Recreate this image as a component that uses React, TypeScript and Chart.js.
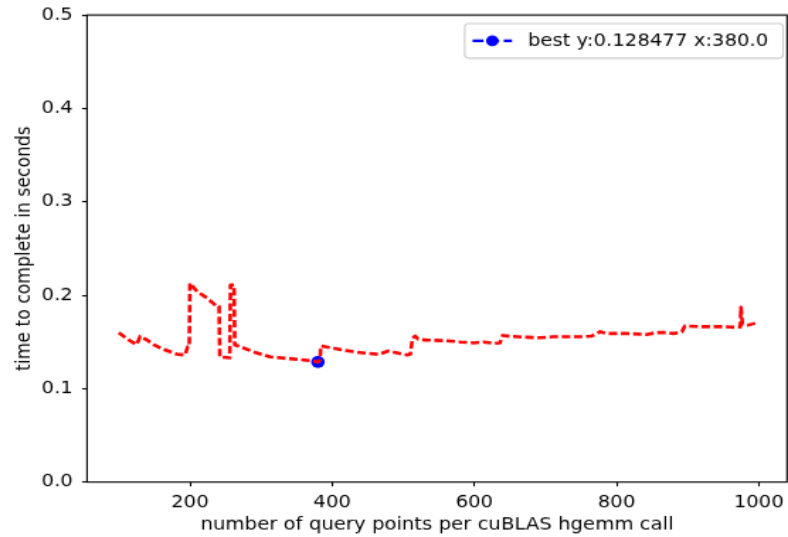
import React, { useEffect, useRef } from "react";
import { Chart, registerables } from "chart.js";

Chart.register(...registerables);

// ---- data ----
const xValues = [
  100, 112, 125, 130, 140, 149, 163, 181, 193, 197, 199, 200, 210, 224, 238, 241, 242, 256, 257, 262,
  263, 270, 289, 313, 336, 355, 374, 380, 383, 384, 397, 411, 430, 449, 465, 479, 491, 505, 510, 513,
  517, 521, 533, 561, 580, 599, 613, 627, 636, 640, 650, 674, 692, 711, 730, 753, 765, 770, 777, 786,
  814, 842, 857, 871, 880, 892, 896, 922, 950, 969, 974, 975, 977, 985, 995,
];
const yValues = [
  0.16, 0.153, 0.147, 0.156, 0.152, 0.147, 0.142, 0.137, 0.136, 0.145, 0.145, 0.213, 0.204, 0.197, 0.188, 0.188, 0.134, 0.133, 0.211, 0.211,
  0.147, 0.145, 0.1395, 0.134, 0.1324, 0.131, 0.1296, 0.128477, 0.131, 0.1456, 0.144, 0.142, 0.1395, 0.1378, 0.1367, 0.1402, 0.1384, 0.136, 0.137, 0.154,
  0.1563, 0.1528, 0.152, 0.1513, 0.15, 0.149, 0.15, 0.1485, 0.149, 0.157, 0.156, 0.155, 0.1545, 0.1556, 0.1556, 0.1556, 0.1563, 0.158, 0.161, 0.159,
  0.159, 0.158, 0.16, 0.16, 0.159, 0.161, 0.167, 0.1663, 0.1663, 0.1656, 0.166, 0.187, 0.169, 0.168, 0.17,
];
const bestX = 380.0;
const bestY = 0.128477;
const xTicks = [200, 400, 600, 800, 1000];
const yTicks = [0, 0.1, 0.2, 0.3, 0.4, 0.5];
const xRange = [55.25, 1039.75];
const yRange = [0, 0.5];
const xTitle = "number of query points per cuBLAS hgemm call";
const yTitle = "time to complete in seconds";
const legendLabel = `best y:${bestY} x:${bestX.toFixed(1)}`;

// ---- geometry (canvas drawn small, then stretched like the reference) ----
const OUT_W = 788;
const OUT_H = 537;
const CW = 556;
const CH = 433;
const SX = OUT_W / CW;
const SY = OUT_H / CH;
const AREA_LEFT = 87 / SX;
const AREA_RIGHT = 787 / SX;
const AREA_TOP = 15 / SY;
const AREA_BOTTOM = 482 / SY;
const FONT = "'DejaVu Sans', sans-serif";
const FS = 13.9;
const LW = 1.1;

const framePlugin = {
  id: "mplFrame",
  afterDraw(chart: any) {
    const { ctx, chartArea } = chart;
    const { left, right, top, bottom } = chartArea;
    ctx.save();
    ctx.strokeStyle = "#000";
    ctx.lineWidth = LW;
    ctx.strokeRect(left, top, right - left, bottom - top);

    // legend (upper right)
    ctx.font = `${FS}px ${FONT}`;
    const textW = ctx.measureText(legendLabel).width;
    const bp = 0.4 * FS;
    const hl = 2 * FS;
    const htp = 0.8 * FS;
    const padR = 0.75 * FS;
    const w = bp + hl + htp + textW + padR;
    const h = bp * 2 + 1.2 * FS;
    const bx = right - 0.2 * FS - w;
    const by = top + 0.5 * FS;
    const r = 0.2 * FS;
    ctx.beginPath();
    ctx.moveTo(bx + r, by);
    ctx.lineTo(bx + w - r, by);
    ctx.arcTo(bx + w, by, bx + w, by + r, r);
    ctx.lineTo(bx + w, by + h - r);
    ctx.arcTo(bx + w, by + h, bx + w - r, by + h, r);
    ctx.lineTo(bx + r, by + h);
    ctx.arcTo(bx, by + h, bx, by + h - r, r);
    ctx.lineTo(bx, by + r);
    ctx.arcTo(bx, by, bx + r, by, r);
    ctx.closePath();
    ctx.fillStyle = "rgba(255,255,255,0.8)";
    ctx.fill();
    ctx.strokeStyle = "#cccccc";
    ctx.lineWidth = LW;
    ctx.stroke();

    const cy = by + h / 2;
    const hx0 = bx + bp;
    ctx.beginPath();
    ctx.setLineDash([7.7, 3.3]);
    ctx.strokeStyle = "#0000ff";
    ctx.lineWidth = 2.2;
    ctx.moveTo(hx0, cy);
    ctx.lineTo(hx0 + hl, cy);
    ctx.stroke();
    ctx.setLineDash([]);
    ctx.beginPath();
    ctx.fillStyle = "#0000ff";
    ctx.arc(hx0 + hl / 2, cy, 4.4, 0, Math.PI * 2);
    ctx.fill();

    ctx.fillStyle = "#000";
    ctx.textBaseline = "middle";
    ctx.textAlign = "left";
    ctx.fillText(legendLabel, hx0 + hl + htp, cy + 0.5);
    ctx.restore();
  },
};

export default function App() {
  const ref = useRef<HTMLCanvasElement | null>(null);

  useEffect(() => {
    document.body.style.margin = "0";
    const canvas = ref.current;
    if (!canvas) return;
    const tickFont = { family: FONT, size: FS };
    const chart = new Chart(canvas, {
      type: "scatter",
      data: {
        datasets: [
          {
            data: xValues.map((x, i) => ({ x, y: yValues[i] })),
            showLine: true,
            borderColor: "#ff0000",
            backgroundColor: "#ff0000",
            borderWidth: 2.6,
            borderDash: [6, 2.6],
            borderCapStyle: "butt",
            borderJoinStyle: "round",
            pointRadius: 0,
            tension: 0,
            fill: false,
          },
          {
            data: [{ x: bestX, y: bestY }],
            showLine: false,
            pointRadius: 4.8,
            pointBackgroundColor: "#0000ff",
            pointBorderColor: "#0000ff",
            pointBorderWidth: 0,
          },
        ],
      } as any,
      options: {
        animation: false,
        responsive: false,
        devicePixelRatio: 1,
        events: [],
        layout: {
          autoPadding: false,
          padding: { left: 0, right: CW - AREA_RIGHT, top: AREA_TOP, bottom: 0 },
        },
        plugins: { legend: { display: false }, tooltip: { enabled: false } },
        scales: {
          x: {
            type: "linear",
            position: "bottom",
            min: xRange[0],
            max: xRange[1],
            border: { display: false },
            grid: {
              display: true,
              drawOnChartArea: false,
              drawTicks: true,
              tickLength: 3.5,
              tickWidth: LW,
              tickColor: "#000",
            },
            ticks: {
              color: "#000",
              font: tickFont,
              padding: 4.6,
              maxRotation: 0,
              autoSkip: false,
              callback: (v: any) => String(v),
            },
            title: {
              display: true,
              text: xTitle,
              color: "#000",
              font: tickFont,
              padding: { top: 0, bottom: 1.6 },
            },
            afterBuildTicks: (s: any) => {
              s.ticks = xTicks.map((v) => ({ value: v }));
            },
            afterFit: (s: any) => {
              s.height = CH - AREA_BOTTOM;
              s.paddingLeft = 0;
              s.paddingRight = 0;
              s.paddingTop = 0;
              s.paddingBottom = 0;
            },
          },
          y: {
            type: "linear",
            min: yRange[0],
            max: yRange[1],
            border: { display: false },
            grid: {
              display: true,
              drawOnChartArea: false,
              drawTicks: true,
              tickLength: 3.5,
              tickWidth: LW,
              tickColor: "#000",
            },
            ticks: {
              color: "#000",
              font: tickFont,
              padding: 6.5,
              autoSkip: false,
              callback: (v: any) => Number(v).toFixed(1),
            },
            title: {
              display: true,
              text: yTitle,
              color: "#000",
              font: tickFont,
              padding: { top: 9.5, bottom: 0 },
            },
            afterBuildTicks: (s: any) => {
              s.ticks = yTicks.map((v) => ({ value: v }));
            },
            afterFit: (s: any) => {
              s.width = AREA_LEFT;
              s.paddingLeft = 0;
              s.paddingRight = 0;
              s.paddingTop = 0;
              s.paddingBottom = 0;
            },
          },
        },
      } as any,
      plugins: [framePlugin],
    });
    return () => chart.destroy();
  }, []);

  return (
    <div
      style={{
        position: "absolute",
        left: 0,
        top: 0,
        width: OUT_W,
        height: OUT_H,
        overflow: "hidden",
        background: "#fff",
      }}
    >
      <canvas
        ref={ref}
        width={CW}
        height={CH}
        style={{
          display: "block",
          transformOrigin: "0 0",
          transform: `scale(${SX}, ${SY})`,
        }}
      />
    </div>
  );
}
